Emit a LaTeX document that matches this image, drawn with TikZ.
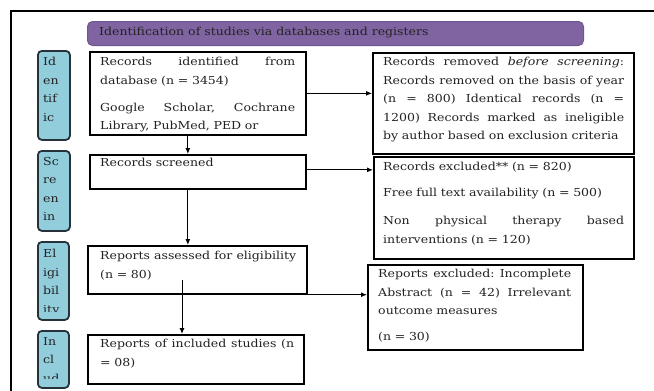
\documentclass[tikz,border=0pt]{standalone}
\usepackage{fontspec}
\setmainfont{DejaVu Serif}[FakeStretch=1.14]
\usetikzlibrary{arrows.meta}
\setlength{\parindent}{0pt}
\frenchspacing
\hfuzz=50pt
\hbadness=10000
\definecolor{hdrpurple}{HTML}{8064A2}
\definecolor{hdrborder}{HTML}{6F5690}
\definecolor{stageblue}{HTML}{92CDDC}
\definecolor{stageborder}{HTML}{26323A}
\definecolor{txt}{HTML}{222222}
\newcommand{\jl}[1]{\makebox[\hsize][s]{\spaceskip=0.3em plus 3em\relax #1}\\}
\begin{document}
\begin{tikzpicture}[x=1pt,y=-1pt,
  bodytext/.style={font=\fontsize{11}{18.5}\selectfont, inner sep=0pt, anchor=north west, text=txt, align=left},
  flowbox/.style={draw=black, line width=1.7pt, inner sep=0pt, anchor=north west},
  sidebox/.style={draw=black, line width=2pt, inner sep=0pt, anchor=north west},
  stagebox/.style={draw=stageborder, fill=stageblue, line width=1.8pt, rounded corners=4pt, inner sep=0pt, anchor=north west},
  stagetext/.style={font=\fontsize{11}{18.5}\selectfont, inner sep=0pt, anchor=north west, align=left, text=txt},
  flowarrow/.style={-{Latex[length=6pt,width=5pt]}, line width=1pt},
]
\useasboundingbox (0,0) rectangle (654,391);
\fill[white] (0,0) rectangle (654,391);
% outer frame
\draw[line width=2pt] (11,395) -- (11,11) -- (660,11);

% header
\node[draw=hdrborder, fill=hdrpurple, line width=1pt, rounded corners=5pt, anchor=north west,
      minimum width=496pt, minimum height=24pt, inner sep=0pt] (hdr) at (87,21) {};
\node[font=\fontsize{11}{12}\selectfont, anchor=west, inner sep=0pt, text=txt] (hdrt) at (99,33)
  {Identification of studies via databases and registers};

% stage boxes
\node[stagebox, minimum width=32pt, minimum height=89pt] (s1) at (37,50) {};
\node[stagebox, minimum width=32pt, minimum height=80pt] (s2) at (37,150) {};
\node[stagebox, minimum width=31pt, minimum height=78pt] (s3) at (37,241) {};
\node[stagebox, minimum width=31pt, minimum height=57pt] (s4) at (37,330) {};

\begin{scope}
  \clip (37,50) rectangle (69,131);
  \node[stagetext] (s1t) at (43,57) {Id\\en\\tif\\ic};
\end{scope}
\begin{scope}
  \clip (37,150) rectangle (69,223);
  \node[stagetext] (s2t) at (43,157) {Sc\\re\\en\\in};
\end{scope}
\begin{scope}
  \clip (37,241) rectangle (69,311);
  \node[stagetext] (s3t) at (43,249) {El\\igi\\bil\\ity};
\end{scope}
\begin{scope}
  \clip (37,330) rectangle (69,378.5);
  \node[stagetext] (s4t) at (43,337) {In\\cl\\ud};
\end{scope}

% main flow boxes
\node[flowbox, minimum width=216pt, minimum height=83pt] (b1) at (89,51) {};
\node[flowbox, minimum width=216pt, minimum height=34pt] (b2) at (89,154) {};
\node[flowbox, minimum width=219pt, minimum height=48pt] (b3) at (87,245) {};
\node[flowbox, minimum width=216pt, minimum height=49pt] (b4) at (87,334) {};

\node[bodytext, text width=195pt] (b1t) at (100,57)
  {\jl{Records identified from}database (n = 3454)\\[8.5pt]\jl{Google Scholar, Cochrane}Library, PubMed, PED or};
\node[bodytext, text width=195pt] (b2t) at (100,158) {Records screened};
\node[bodytext, text width=196pt] (b3t) at (100,251) {\jl{Reports assessed for eligibility}(n = 80)};
\node[bodytext, text width=194pt] (b4t) at (100,339) {\jl{Reports of included studies (n}= 08)};

% side boxes
\node[sidebox, minimum width=261pt, minimum height=101pt] (r1) at (372,52) {};
\node[sidebox, minimum width=260pt, minimum height=102pt] (r2) at (373,156) {};
\node[sidebox, minimum width=215pt, minimum height=85pt] (r3) at (367,264) {};

\node[bodytext, text width=241pt] (r1t) at (383,57)
  {\jl{Records removed \textit{before screening}:}\jl{Records removed on the basis of year}\jl{(n = 800) Identical records (n =}\jl{1200) Records marked as ineligible}by author based on exclusion criteria};
\node[bodytext, text width=241pt] (r2t) at (383,162)
  {Records excluded** (n = 820)\\[7.5pt]Free full text availability (n = 500)\\[9.5pt]\jl{Non physical therapy based}interventions (n = 120)};
\node[bodytext, text width=193pt] (r3t) at (378,269)
  {\jl{Reports excluded: Incomplete}\jl{Abstract (n = 42) Irrelevant}outcome measures\\[7.5pt](n = 30)};

% connectors
\draw[flowarrow] (b1.east) -- (b1.east -| r1.west);
\draw[flowarrow] ([yshift=2pt]b2.east) -- ([yshift=2pt]b2.east -| r2.west);
\draw[flowarrow] ([xshift=-10pt]b1.south) -- ([xshift=-10pt]b1.south |- b2.north);
\draw[flowarrow] ([xshift=-10pt]b2.south) -- ([xshift=-10pt]b2.south |- b3.north);
\coordinate (c3) at (182,280);
\draw[flowarrow] (c3) -- (c3 |- b4.north);
\draw[flowarrow] (b3.south east) -- (b3.south east -| r3.west);
\end{tikzpicture}
\end{document}
